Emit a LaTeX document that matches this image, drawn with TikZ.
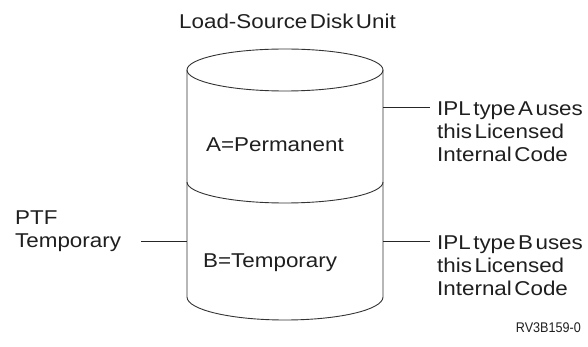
\documentclass[tikz,border=0pt]{standalone}
\usepackage{fontspec}
\setmainfont{Liberation Sans}[FakeStretch=1.12]
\newfontfamily\rvfont{Liberation Sans}[FakeStretch=0.9]
\def\tightsp{\spaceskip 2.5pt\relax}
\begin{document}
\begin{tikzpicture}[x=1pt,y=-1pt,
  lbl/.style={inner sep=0pt,font={\fontsize{20}{23}\selectfont\tightsp},text=black!88},
  multi/.style={lbl,align=left,anchor=base west},
  cyl/.style={draw=black!80,line width=0.9pt},
  lead/.style={draw=black!85,line width=0.7pt}]
\useasboundingbox (0,0) rectangle (588,347);
% cylinder
\draw[cyl] (285,70) ellipse [x radius=98, y radius=21];
\draw[cyl] (187,70) -- (187,297) arc[start angle=180,end angle=0,x radius=98,y radius=23] -- (383,70);
\draw[cyl] (187,182) arc[start angle=180,end angle=0,x radius=98,y radius=21];
\coordinate (rA) at (383,107);
\coordinate (rB) at (383,241);
\coordinate (lB) at (187,241);
\coordinate (eA) at (430,107);
\coordinate (eB) at (430,241);
\coordinate (eL) at (141,241);
% labels
\node[lbl,anchor=base] (title) at (287.5,29) {Load-Source Disk Unit};
\node[lbl,anchor=base west] (perm) at (206,151.5) {A=Permanent};
\node[lbl,anchor=base west] (temp) at (203,267.5) {B=Temporary};
\node[multi] (ipla) at (437,161.7) {IPL type A uses\\this Licensed\\Internal Code};
\node[multi] (iplb) at (437,295.3) {IPL type B uses\\this Licensed\\Internal Code};
\node[multi] (ptf) at (15,247) {PTF\\Temporary};
\node[inner sep=0pt,anchor=base east,text=black!88] (rv) at (581,332) {\rvfont\fontsize{14}{16}\selectfont RV3B159-0};
\draw[lead] (rA) -- (eA);
\draw[lead] (rB) -- (eB);
\draw[lead] (eL) -- (lB);
\end{tikzpicture}
\end{document}
